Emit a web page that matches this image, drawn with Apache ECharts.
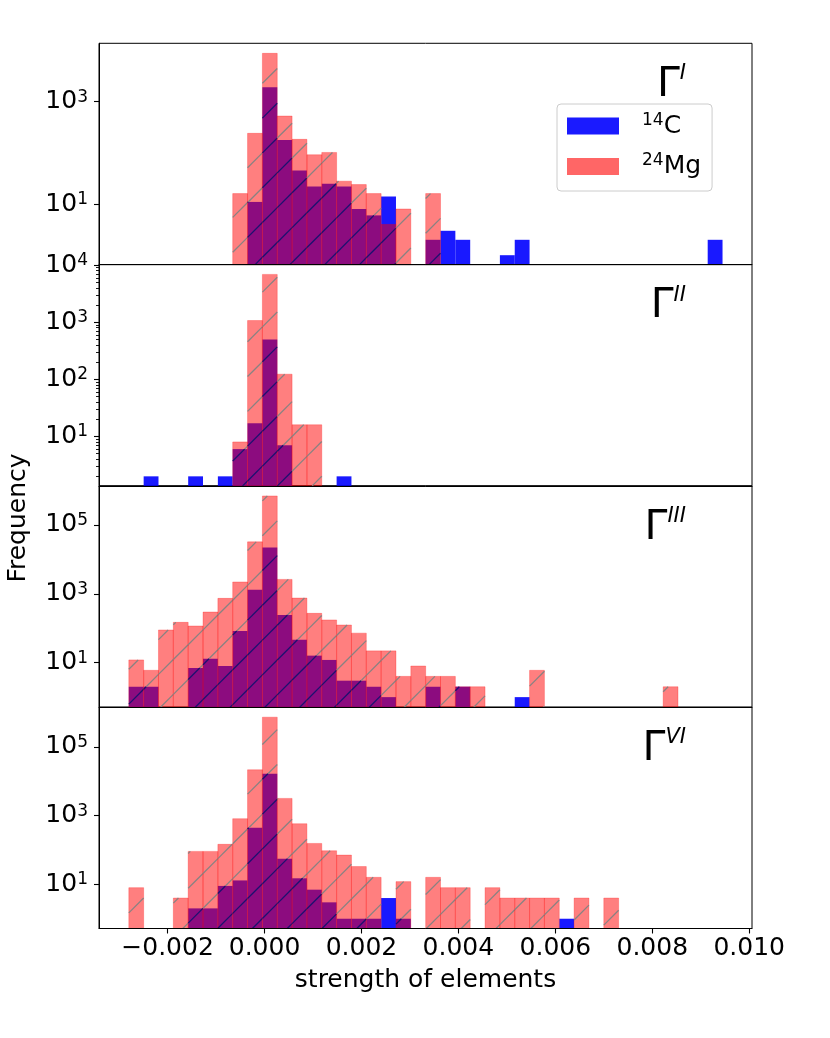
<!DOCTYPE html>
<html>
<head>
<meta charset="utf-8">
<title>strength of elements</title>
<script src="https://cdn.jsdelivr.net/npm/echarts@6/dist/echarts.min.js"></script>
<style>
    html, body { margin: 0; padding: 0; background: #fff; }
    #main { width: 830px; height: 1038px; }
</style>
</head>
<body>
<div id="main"></div>
<script>
// 40 equal-width bins shared by every panel
var BIN_LO = -0.0028;
var BIN_W = 0.00030625;

var panelNames = ['I', 'II', 'III', 'VI'];

// counts per bin, 14C
var c14_I   = [0,0,0,0,0,0,0,0, 11,1910,178,45,22,25,22,8,6,14, 0,0,2,3,2,0,0,1,2, 0,0,0,0,0,0,0,0,0,0,0,0, 2];
var c14_II  = [0,2,0,0,2,0,2,6, 17,500,7,0,0,0,2,0,0,0, 0,0,0,0,0,0,0,0,0,0,0,0,0,0,0,0,0,0,0,0,0,0];
var c14_III = [2,2,0,0,7,13,8,83, 1306,22100,241,46,16,12,3,3,2,1, 0,0,2,0,2,0,0,0,1, 0,0,0,0,0,0,0,0,0,0,0,0,0];
var c14_VI  = [0,0,0,0,2,2,9,13, 444,16400,56,15,7,3,1,1,1,4, 1,0,0,0,0,0,0,0,0, 0,0,1,0,0,0,0,0,0,0,0,0,0];

// counts per bin, 24Mg
var mg24_I   = [0,0,0,0,0,0,0,16, 241,8830,525,184,92,102,28,24,16,4, 8,0,16,0,0,0,0,0,0,0,0,0,0,0,0,0,0,0,0,0,0,0];
var mg24_II  = [0,0,0,0,0,0,0,8, 1070,6870,123,16,16,0,0,0,0,0, 0,0,0,0,0,0,0,0,0,0,0,0,0,0,0,0,0,0,0,0,0,0];
var mg24_III = [12,6,89,148,116,295,735,2200, 32100,690000,2610,750,270,174,124,72,22,22, 4,8,4,4,2,2,0,0,0, 6,0,0,0,0,0,0,0,0, 2,0,0,0];
var mg24_VI  = [8,0,0,4,91,91,146,813, 21500,728000,3160,580,155,95,71,33,16,0, 12,0,16,8,8,0,8,4,4, 4,4,0,4,0,4, 0,0,0,0,0,0,0];

var c14 = [c14_I, c14_II, c14_III, c14_VI];
var mg24 = [mg24_I, mg24_II, mg24_III, mg24_VI];

// axis limits and tick labels
var xMin = -0.003415, xMax = 0.010058;
var xTicks = [-0.002, 0, 0.002, 0.004, 0.006, 0.008, 0.010];
var yMin = [0.655, 1.36, 0.51, 0.52];
var yMax = [13870, 10200, 1.35e6, 1.42e6];
var yMajor = [[10, 1000], [10, 100, 1000, 10000], [10, 1000, 100000], [10, 1000, 100000]];
var yMinorII = [];
[1, 10, 100, 1000].forEach(function (d) {
    for (var k = 2; k <= 9; k++) yMinorII.push(k * d);
});

var FONT = 'DejaVu Sans';
var GRID_TOP = 43.3, GRID_H = 221.3, GRID_LEFT = 99, GRID_W = 653;
var HATCH_SP = 34.8, HATCH_PH = 32.5;

function binData(counts, other) {
    var out = [];
    for (var i = 0; i < counts.length; i++) {
        if (counts[i] > 0) {
            out.push([BIN_LO + i * BIN_W, BIN_LO + (i + 1) * BIN_W, counts[i], other ? other[i] : 0]);
        }
    }
    return out;
}

// diagonal hatch '/' inside a rect, lines x + y = const
function hatchLines(x0, x1, y0, y1, color) {
    var out = [];
    if (y1 - y0 < 0.5) return out;
    var k = Math.ceil((x0 + y0 - HATCH_PH) / HATCH_SP);
    for (var c = HATCH_PH + k * HATCH_SP; c <= x1 + y1; c += HATCH_SP) {
        var xs = Math.max(x0, c - y1), xe = Math.min(x1, c - y0);
        if (xe - xs < 0.3) continue;
        out.push({
            type: 'line',
            shape: {x1: xs, y1: c - xs, x2: xe, y2: c - xe},
            style: {stroke: color, lineWidth: 1.3}
        });
    }
    return out;
}

function renderBlue(params, api) {
    var a = api.coord([api.value(0), api.value(2)]);
    var b = api.coord([api.value(1), api.value(2)]);
    var bottom = params.coordSys.y + params.coordSys.height;
    return {
        type: 'rect',
        shape: {x: a[0], y: a[1], width: b[0] - a[0], height: bottom - a[1]},
        style: {fill: 'rgba(0,0,255,0.9)'}
    };
}

function renderRed(params, api) {
    var a = api.coord([api.value(0), api.value(2)]);
    var b = api.coord([api.value(1), api.value(2)]);
    var bottom = params.coordSys.y + params.coordSys.height;
    var blue = api.value(3);
    var split = bottom;
    if (blue > 0) split = Math.max(a[1], api.coord([api.value(0), blue])[1]);
    var children = [{
        type: 'rect',
        shape: {x: a[0], y: a[1], width: b[0] - a[0], height: bottom - a[1]},
        style: {fill: 'rgba(255,0,0,0.5)', stroke: 'rgba(255,0,0,0.25)', lineWidth: 1}
    }];
    children = children.concat(hatchLines(a[0], b[0], a[1], split, '#8a8282'));
    children = children.concat(hatchLines(a[0], b[0], split, bottom, '#1c1270'));
    return {type: 'group', children: children};
}

function supLabel(v) {
    return '{b|10}{s|' + Math.round(Math.log10(v)) + '}';
}

function xLabel(v) {
    return (v < -1e-12 ? '\u2212' : '') + Math.abs(v).toFixed(3);
}

var grids = [], xAxes = [], yAxes = [], series = [], graphics = [];

for (var p = 0; p < 4; p++) {
    var last = p === 3;
    grids.push({
        left: GRID_LEFT, top: GRID_TOP + p * GRID_H, width: GRID_W, height: GRID_H,
        show: true, borderColor: '#000', borderWidth: 1, backgroundColor: 'transparent',
        outerBoundsMode: 'none'
    });
    xAxes.push({
        type: 'value', gridIndex: p, min: xMin, max: xMax, z: 5,
        axisLine: {show: true, onZero: false, lineStyle: {color: '#000', width: 1}},
        axisTick: {show: last, length: 5, customValues: xTicks, lineStyle: {color: '#000', width: 1.1}},
        axisLabel: {
            show: last, customValues: xTicks, formatter: xLabel, margin: 7,
            fontSize: 25, fontFamily: FONT, color: '#000'
        },
        splitLine: {show: false},
        name: last ? 'strength of elements' : '',
        nameLocation: 'middle', nameGap: 39,
        nameTextStyle: {fontSize: 25, fontFamily: FONT, color: '#000'}
    });
    yAxes.push({
        type: 'log', logBase: 10, gridIndex: p, min: yMin[p], max: yMax[p], z: 5,
        axisLine: {show: true, onZero: false, lineStyle: {color: '#000', width: 1}},
        axisTick: {show: true, length: 5, customValues: yMajor[p], lineStyle: {color: '#000', width: 1.1}},
        axisLabel: {
            customValues: yMajor[p], formatter: supLabel, margin: 11, color: '#000',
            fontFamily: FONT,
            rich: {
                b: {fontSize: 25, fontFamily: FONT, color: '#000', lineHeight: 26},
                s: {fontSize: 17, fontFamily: FONT, color: '#000', lineHeight: 12, verticalAlign: 'top'}
            }
        },
        splitLine: {show: false},
        minorTick: {show: false}
    });
    series.push({
        type: 'custom', name: '14C', xAxisIndex: p, yAxisIndex: p,
        renderItem: renderBlue, data: binData(c14[p]),
        encode: {x: [0, 1], y: 2}, itemStyle: {color: '#1a1aff'}, silent: true
    });
    series.push({
        type: 'custom', name: '24Mg', xAxisIndex: p, yAxisIndex: p,
        renderItem: renderRed, data: binData(mg24[p], c14[p]),
        encode: {x: [0, 1], y: 2}, itemStyle: {color: '#ff6666'}, silent: true
    });
    graphics.push({
        type: 'text', x: 686, y: GRID_TOP + p * GRID_H + 20, z: 20,
        style: {
            text: '{g|\u0393}{s|' + panelNames[p] + '}',
            align: 'right', verticalAlign: 'top',
            rich: {
                g: {fontSize: 41, fontFamily: FONT, lineHeight: 44, fill: '#000'},
                s: {fontSize: 21, fontFamily: FONT, fontStyle: 'italic', lineHeight: 24, verticalAlign: 'top', fill: '#000'}
            }
        }
    });
}

// minor ticks on the second panel
yAxes.push({
    type: 'log', logBase: 10, gridIndex: 1, min: yMin[1], max: yMax[1], position: 'left', z: 5,
    axisLine: {show: false, onZero: false},
    axisTick: {show: true, length: 3, customValues: yMinorII, lineStyle: {color: '#000', width: 0.9}},
    axisLabel: {show: false},
    splitLine: {show: false}
});

graphics.push({
    type: 'text', x: 18, y: 518, rotation: Math.PI / 2,
    style: {text: 'Frequency', fontSize: 25, fontFamily: FONT, fill: '#000', align: 'center', verticalAlign: 'middle'}
});

var chart = echarts.init(document.getElementById('main'));
chart.setOption({
    animation: false,
    backgroundColor: '#fff',
    textStyle: {fontFamily: FONT},
    grid: grids,
    xAxis: xAxes,
    yAxis: yAxes,
    legend: {
        orient: 'vertical', left: 557, top: 104, icon: 'rect',
        itemWidth: 52, itemHeight: 17, itemGap: 14,
        padding: [8, 11, 12, 10],
        backgroundColor: 'rgba(255,255,255,0.8)', borderColor: '#cccccc', borderWidth: 1, borderRadius: 4,
        selectedMode: false,
        data: [
            {name: '14C', itemStyle: {color: '#1a1aff'}},
            {name: '24Mg', itemStyle: {color: '#ff6666'}}
        ],
        formatter: function (name) {
            return name === '14C' ? '{pad|}{sup|14}{b|C}' : '{pad|}{sup|24}{b|Mg}';
        },
        textStyle: {
            fontFamily: FONT, fontSize: 25, color: '#000',
            rich: {
                pad: {width: 18},
                sup: {fontSize: 17, fontFamily: FONT, lineHeight: 11, verticalAlign: 'top'},
                b: {fontSize: 25, fontFamily: FONT, lineHeight: 28}
            }
        }
    },
    graphic: graphics,
    series: series
});
</script>
</body>
</html>
